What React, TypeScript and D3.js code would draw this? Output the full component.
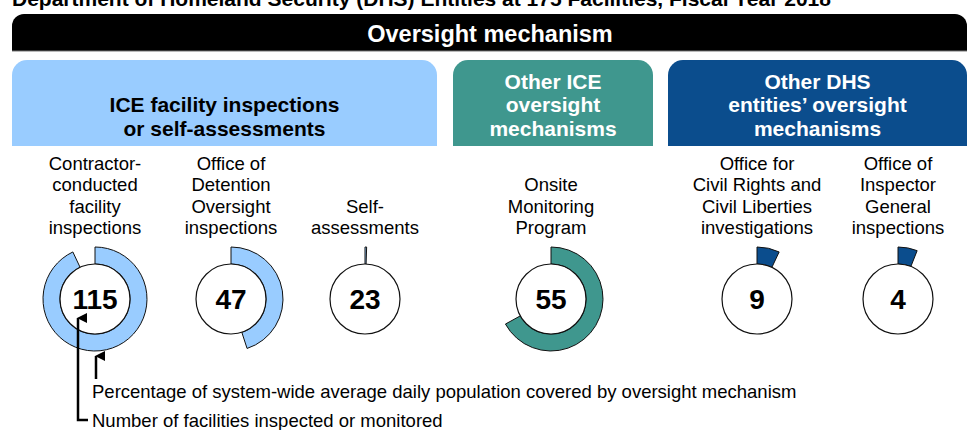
import React from "react";
import * as d3 from "d3";

// ---- data ----
const headerTitle = "Oversight mechanism";
const cutTitle = "Department of Homeland Security (DHS) Entities at 175 Facilities, Fiscal Year 2018";
const groupTitles = [
  ["ICE facility inspections", "or self-assessments"],
  ["Other ICE", "oversight", "mechanisms"],
  ["Other DHS", "entities\u2019 oversight", "mechanisms"],
];
const mechanismLabels = [
  ["Contractor-", "conducted", "facility", "inspections"],
  ["Office of", "Detention", "Oversight", "inspections"],
  ["Self-", "assessments"],
  ["Onsite", "Monitoring", "Program"],
  ["Office for", "Civil Rights and", "Civil Liberties", "investigations"],
  ["Office of", "Inspector", "General", "inspections"],
];
const mechanismGroup = [0, 0, 0, 1, 2, 2];
const facilitiesCount = [115, 47, 23, 55, 9, 4];
const populationPercent = [93, 45, 0.5, 67, 7, 6];
const legendPercent = "Percentage of system-wide average daily population covered by oversight mechanism";
const legendCount = "Number of facilities inspected or monitored";

// ---- styles / layout ----
const W = 972;
const H = 430;
const FONT = "'Liberation Sans', Arial, Helvetica, sans-serif";
const groupFill = ["#99CCFF", "#3F978E", "#0B4D8D"];
const groupText = ["#000000", "#ffffff", "#ffffff"];
const groupBoxes = [
  [12, 437],
  [453, 653],
  [668, 967],
];
const centersX = [95, 231, 365, 551, 757, 898];
const CY = 299;
const R_IN = 35;
const R_OUT = 52;

function topRounded(x0: number, x1: number, y0: number, y1: number, r: number) {
  const p = d3.path();
  p.moveTo(x0, y1);
  p.lineTo(x0, y0 + r);
  p.arcTo(x0, y0, x0 + r, y0, r);
  p.lineTo(x1 - r, y0);
  p.arcTo(x1, y0, x1, y0 + r, r);
  p.lineTo(x1, y1);
  p.closePath();
  return p.toString();
}

export default function App() {
  const pctScale = d3.scaleLinear().domain([0, 100]).range([0, 2 * Math.PI]);
  const arcGen = d3.arc<any>().innerRadius(R_IN).outerRadius(R_OUT).startAngle(0);

  const labelLine = 21.5;
  const labelBottom = 234;

  return (
    <svg
      width={W}
      height={H}
      viewBox={`0 0 ${W} ${H}`}
      style={{ position: "absolute", left: 0, top: 0, background: "#fff", fontFamily: FONT }}
    >
      <defs>
        <marker id="arr" viewBox="0 0 10 10" refX="5" refY="1" markerWidth="10" markerHeight="10" orient="auto-start-reverse" markerUnits="userSpaceOnUse">
          <path d="M0,10 L5,0 L10,10 Z" fill="#000" />
        </marker>
      </defs>
      <rect x={0} y={0} width={W} height={H} fill="#fff" />
      {/* cut-off title at top */}
      <text x={12} y={6} fontSize={21} fontWeight="bold" fill="#000">
        {cutTitle}
      </text>

      {/* header bar */}
      <path d={topRounded(12, 967, 14, 51, 12)} fill="#000" />
      <line x1={12} x2={967} y1={51} y2={51} stroke="#777" strokeWidth={1} />
      <text x={490} y={42} textAnchor="middle" fontSize={23.5} fontWeight="bold" fill="#fff">
        {headerTitle}
      </text>

      {/* group boxes */}
      {groupTitles.map((lines, g) => {
        const [x0, x1] = groupBoxes[g];
        const cx = (x0 + x1) / 2;
        const n = lines.length;
        const lh = 23.3;
        const lastY = 128;
        return (
          <g key={g}>
            <path d={topRounded(x0, x1, 60, 146, 15)} fill={groupFill[g]} />
            {lines.map((t, i) => (
              <text
                key={i}
                x={cx}
                y={lastY - (n - 1 - i) * lh + 7.5}
                textAnchor="middle"
                fontSize={21}
                fontWeight="bold"
                fill={groupText[g]}
              >
                {t}
              </text>
            ))}
          </g>
        );
      })}

      {/* mechanisms */}
      {facilitiesCount.map((count, i) => {
        const cx = centersX[i];
        const lines = mechanismLabels[i];
        const g = mechanismGroup[i];
        return (
          <g key={i}>
            {lines.map((t, j) => (
              <text
                key={j}
                x={cx}
                y={labelBottom - (lines.length - 1 - j) * labelLine}
                textAnchor="middle"
                fontSize={18.5}
                fill="#000"
              >
                {t}
              </text>
            ))}
            <g transform={`translate(${cx},${CY})`}>
              <path
                d={arcGen({ endAngle: pctScale(populationPercent[i]) }) as string}
                fill={groupFill[g]}
                stroke="#111"
                strokeWidth={1}
              />
              <circle r={R_IN} fill="#fff" stroke="#111" strokeWidth={1.2} />
              <text y={10} textAnchor="middle" fontSize={28} fontWeight="bold" fill="#000">
                {count}
              </text>
            </g>
          </g>
        );
      })}

      {/* legend annotations */}
      <line x1={96} x2={96} y1={379} y2={356} stroke="#000" strokeWidth={2.5} markerEnd="url(#arr)" />
      <text x={92} y={398} fontSize={18.5} fill="#000">
        {legendPercent}
      </text>
      <path d="M88,420 L78,420 L78,318" fill="none" stroke="#000" strokeWidth={2.5} markerEnd="url(#arr)" />
      <text x={92} y={427} fontSize={18.5} fill="#000">
        {legendCount}
      </text>
    </svg>
  );
}
